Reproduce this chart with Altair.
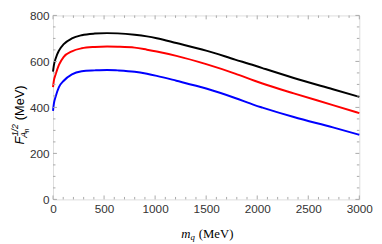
import altair as alt
import pandas as pd

# ---- data ----
mq = [0, 8, 26, 58, 105, 185, 281, 409, 530, 633, 800, 920, 1016, 1208, 1500, 1783, 1974, 2051, 2358, 2741, 3000]
black = [556, 582, 613, 647, 675, 700, 714, 721, 723, 722, 716, 709, 701, 680, 647, 608, 582, 571, 528, 479, 446]
red = [488, 515, 544, 585, 620, 644, 657, 663, 665, 664, 660, 651, 643, 624, 588, 547, 516, 504, 461, 410, 375]
blue = [385, 415, 447, 488, 516, 544, 557, 561, 563, 561, 555, 546, 537, 516, 482, 441, 410, 399, 358, 313, 281]

series_names = ["black", "red", "blue"]
series_colors = ["#000000", "#ff0000", "#0000ff"]

x_major = [0, 500, 1000, 1500, 2000, 2500, 3000]
x_minor = [100, 200, 300, 400, 600, 700, 800, 900, 1100, 1200, 1300, 1400,
           1600, 1700, 1800, 1900, 2100, 2200, 2300, 2400, 2600, 2700, 2800, 2900]
y_major = [0, 200, 400, 600, 800]
y_minor = [50, 100, 150, 250, 300, 350, 450, 500, 550, 650, 700, 750]

W, H = 313, 188
FRAME = "#a8a8a8"
SANS = "Liberation Sans"
SERIF = "Liberation Serif"

rows = []
for name, vals in zip(series_names, [black, red, blue]):
    for m, v in zip(mq, vals):
        rows.append({"mq": m, "F": v, "s": name})
df = pd.DataFrame(rows)

xs = alt.Scale(domain=[0, 3000], nice=False, zero=False)
ys = alt.Scale(domain=[0, 800], nice=False, zero=False)

xaxis = alt.Axis(values=x_major, format="d", ticks=False, domain=False, grid=False, title=None,
                 labelFont=SANS, labelFontSize=12, labelColor="#333333", labelPadding=4, labelFlush=False)
yaxis = alt.Axis(values=y_major, format="d", ticks=False, domain=False, grid=False, title=None,
                 labelFont=SANS, labelFontSize=12, labelColor="#333333", labelPadding=4, labelFlush=False)

lines = alt.Chart(df).mark_line(strokeWidth=2, interpolate="monotone").encode(
    x=alt.X("mq:Q", scale=xs, axis=xaxis),
    y=alt.Y("F:Q", scale=ys, axis=yaxis),
    color=alt.Color("s:N", scale=alt.Scale(domain=series_names, range=series_colors), legend=None),
    detail="s:N",
)


def xticks(vals, length, top):
    d = pd.DataFrame({"v": vals})
    if top:
        yy, yy2 = 0, length
    else:
        yy, yy2 = H, H - length
    return alt.Chart(d).mark_rule(color=FRAME, strokeWidth=1).encode(
        x=alt.X("v:Q", scale=xs, axis=xaxis), y=alt.value(yy), y2=alt.value(yy2))


def yticks(vals, length, right):
    d = pd.DataFrame({"v": vals})
    if right:
        xx, xx2 = W, W - length
    else:
        xx, xx2 = 0, length
    return alt.Chart(d).mark_rule(color=FRAME, strokeWidth=1).encode(
        y=alt.Y("v:Q", scale=ys, axis=yaxis), x=alt.value(xx), x2=alt.value(xx2))


ticks = [
    xticks(x_major, 4, False), xticks(x_minor, 2.5, False),
    xticks(x_major, 4, True), xticks(x_minor, 2.5, True),
    yticks(y_major, 4, False), yticks(y_minor, 2.5, False),
    yticks(y_major, 4, True), yticks(y_minor, 2.5, True),
]


def txt(s, x, y, size, font, style="normal", dx=0, dy=0, angle=0):
    return alt.Chart(pd.DataFrame({"t": [s]})).mark_text(
        font=font, fontSize=size, fontStyle=style, align="left", baseline="alphabetic",
        dx=dx, dy=dy, angle=angle, color="#000000"
    ).encode(text="t:N", x=alt.value(x), y=alt.value(y))


# x-axis title: m_q (MeV)
XT_X, XT_Y = 131, 227
xtitle = [
    txt("m", XT_X, XT_Y, 13, SERIF, "italic"),
    txt("q", XT_X, XT_Y, 9, SERIF, "italic", dx=9.6, dy=3),
    txt("(MeV)", XT_X, XT_Y, 13, SERIF, dx=18),
]

# y-axis title: F_{A_n}^{1/2} (MeV), rotated
YT_X, YT_Y = -30, 132
ytitle = [
    txt("F", YT_X, YT_Y, 13, SANS, "italic", angle=270),
    txt("1/2", YT_X, YT_Y, 9, SANS, "italic", dx=8.5, dy=-6, angle=270),
    txt("A", YT_X, YT_Y, 9, SANS, "italic", dx=7, dy=3, angle=270),
    txt("n", YT_X, YT_Y, 6.5, SANS, "italic", dx=12.5, dy=5, angle=270),
    txt("(MeV)", YT_X, YT_Y, 13, SANS, dx=25, angle=270),
]

chart = alt.layer(lines, *ticks, *xtitle, *ytitle).properties(
    width=W, height=H,
    autosize=alt.AutoSizeParams(type="none"),
    padding={"left": 46, "top": 5, "right": 15, "bottom": 43},
).configure_view(stroke=FRAME, strokeWidth=1).configure(background="white")

chart.save("out.html", embed_options={"renderer": "svg", "actions": False})
